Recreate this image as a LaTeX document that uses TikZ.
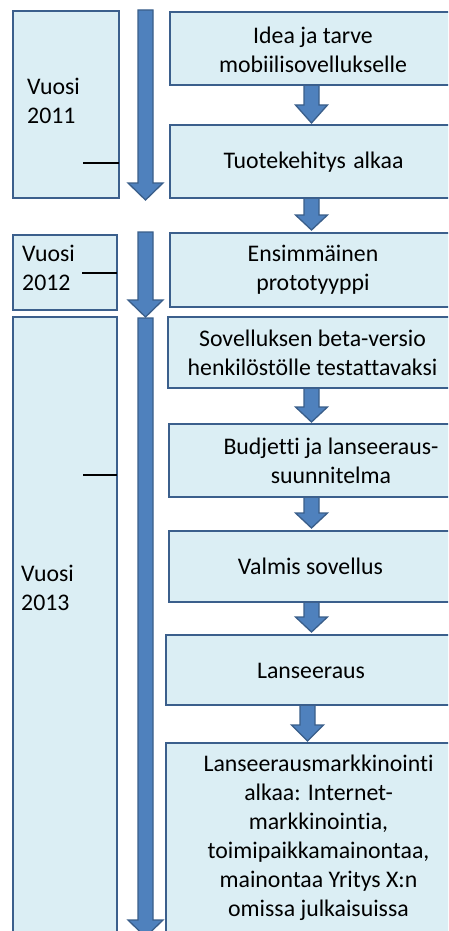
\documentclass[tikz,border=0pt]{standalone}
\usepackage{fontspec}
\setmainfont{Carlito}[Ligatures=NoCommon]
\definecolor{boxfill}{HTML}{DBEEF4}
\definecolor{boxline}{HTML}{3B5F8C}
\definecolor{arrfill}{HTML}{4F81BD}
\definecolor{arrline}{HTML}{3A5E8A}
\newcommand{\fatarr}[6]{% x, ytop, yhead, ytip, shafthalf, headhalf
  \filldraw[arrowshape] (#1-#5,#2) -- (#1+#5,#2) -- (#1+#5,#3) -- (#1+#6,#3) -- (#1,#4) -- (#1-#6,#3) -- (#1-#5,#3) -- cycle;}
\begin{document}
\begin{tikzpicture}[x=1pt,y=-1pt,
  arrowshape/.style={fill=arrfill,draw=arrline,line width=1.3pt,line join=miter},
  stepbox/.style={draw=boxline,fill=boxfill,line width=2.6pt,rectangle,inner sep=0pt},
  yearbox/.style={draw=boxline,fill=boxfill,line width=2.6pt},
  boxtext/.style={align=center,font=\fontsize{23.8}{29}\selectfont,inner sep=0pt},
  yeartext/.style={align=left,anchor=west,font=\fontsize{23.8}{29}\selectfont,inner sep=0pt},
  tick/.style={draw=black,line width=1.4pt}]
\useasboundingbox (0,0) rectangle (448,931);
\clip (0,0) rectangle (448,931);
\fill[white] (0,0) rectangle (448,931);
% year boxes
\draw[yearbox] (13,11) rectangle (119,198);
\draw[yearbox] (13,235) rectangle (117,310);
\draw[yearbox] (13,317) rectangle (117,960);
\node[yeartext] (y1) at (27,101) {Vuosi\\2011};
\node[yeartext] (y2) at (22,268) {Vuosi\\2012};
\node[yeartext] (y3) at (21,588) {Vuosi\\2013};
\coordinate (t1a) at (83,163); \coordinate (t1b) at (119,163);
\coordinate (t2a) at (82,273); \coordinate (t2b) at (117,273);
\coordinate (t3a) at (83,475); \coordinate (t3b) at (117,475);
\draw[tick] (t1a) -- (t1b);
\draw[tick] (t2a) -- (t2b);
\draw[tick] (t3a) -- (t3b);
% big timeline arrows
\fatarr{145.5}{10}{183}{200}{7.5}{17.5}
\fatarr{145.5}{232}{300}{317}{7.5}{17.5}
\fatarr{145.5}{318}{920}{937}{7.5}{17.5}
% small arrows
\fatarr{311.5}{84}{105}{123}{7.5}{16}
\fatarr{311.5}{197}{215}{230}{7.5}{16}
\fatarr{311.5}{387}{407}{422}{7.5}{16}
\fatarr{311.5}{496}{513}{528}{7.5}{16}
\fatarr{311.5}{601}{617}{632}{7.5}{16}
\fatarr{307.5}{704}{725}{741}{7.5}{16}
% step boxes
\draw[stepbox] (170,12) rectangle (457,85);
\draw[stepbox] (170,125) rectangle (457,198);
\draw[stepbox] (170,233) rectangle (457,307);
\draw[stepbox] (168,317) rectangle (457,388);
\draw[stepbox] (169,424) rectangle (457,497);
\draw[stepbox] (169,531) rectangle (457,602);
\draw[stepbox] (166,635) rectangle (457,705);
\draw[stepbox] (166,743) rectangle (471,945);
\node[boxtext] (s1) at (313,49.5) {Idea ja tarve\\mobiilisovellukselle};
\node[boxtext] (s2) at (313.5,162) {Tuotekehitys\hspace{2pt} alkaa};
\node[boxtext] (s3) at (313,270) {Ensimmäinen\\prototyyppi};
\node[boxtext] (s4) at (312.5,353) {Sovelluksen beta-versio\\henkilöstölle testattavaksi};
\node[boxtext] (s5) at (331,461) {Budjetti ja lanseeraus-\\suunnitelma};
\node[boxtext] (s6) at (310.5,566) {Valmis sovellus};
\node[boxtext] (s7) at (311,671) {Lanseeraus};
\node[boxtext] (s8) at (318.5,838) {Lanseerausmarkkinointi\\alkaa: Internet-\\markkinointia,\\toimipaikkamainontaa,\\mainontaa Yritys X:n\\omissa julkaisuissa};
\end{tikzpicture}
\end{document}
